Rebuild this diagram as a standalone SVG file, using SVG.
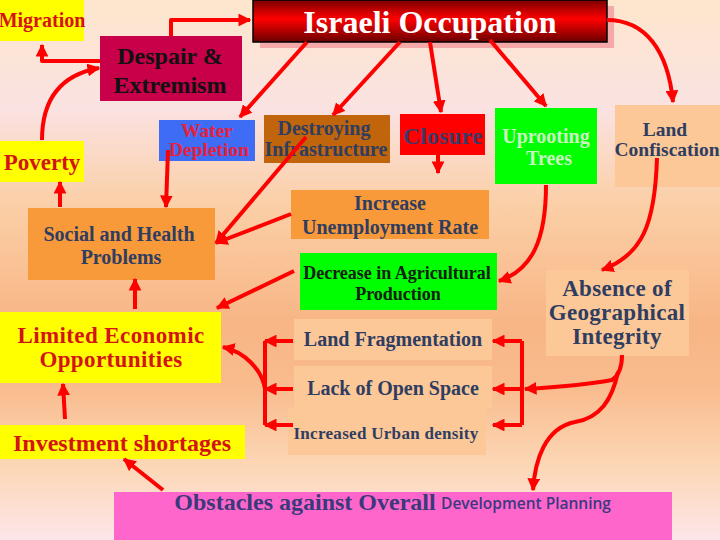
<svg xmlns="http://www.w3.org/2000/svg" width="720" height="540" viewBox="0 0 720 540">
<defs>
<linearGradient id="bg" x1="0" y1="0" x2="0" y2="1">
<stop offset="0" stop-color="#fde6cc"/>
<stop offset="0.2" stop-color="#fae2e2"/>
<stop offset="0.38" stop-color="#fbcfa6"/>
<stop offset="0.6" stop-color="#f8b585"/>
<stop offset="0.72" stop-color="#f9bc8e"/>
<stop offset="0.87" stop-color="#fcd8b8"/>
<stop offset="1" stop-color="#fde6ea"/>
</linearGradient>
<linearGradient id="occ" x1="0" y1="0" x2="0" y2="1">
<stop offset="0" stop-color="#7a0000"/>
<stop offset="0.45" stop-color="#ff0000"/>
<stop offset="1" stop-color="#6a0000"/>
</linearGradient>
<marker id="ah" viewBox="0 0 10 10" refX="9" refY="5" markerWidth="3.2" markerHeight="3.2" orient="auto" markerUnits="strokeWidth">
<path d="M0,0 L10,5 L0,10 z" fill="#ff0000"/>
</marker>
<style>
text{font-family:"Liberation Serif","Times New Roman",serif;font-weight:bold;text-anchor:middle}
.red{fill:#d41414}
.sl{fill:#2e3d60}
.cn path{fill:none;stroke:#ff0000;stroke-width:4;stroke-linejoin:round}
.ar{marker-end:url(#ah)}
</style>
</defs>
<rect width="720" height="540" fill="url(#bg)"/>

<g id="migration"><rect x="0" y="0" width="84" height="41" fill="#ffff00"/><text x="42" y="27" font-size="20" class="red">Migration</text></g>
<g id="occupation"><rect x="260" y="6" width="354" height="42" fill="#f5a9a9"/><rect x="253" y="0" width="354" height="42" fill="url(#occ)" stroke="#000" stroke-width="1.5"/><text x="430" y="33" font-size="32" fill="#ffffff">Israeli Occupation</text></g>
<g id="despair"><rect x="100" y="36" width="142" height="65" fill="#c8004a"/><text x="170" y="64" font-size="24" fill="#111">Despair &amp;</text><text x="170" y="93" font-size="24" fill="#111">Extremism</text></g>
<g id="poverty"><rect x="0" y="141" width="84" height="41" fill="#ffff00"/><text x="42" y="170" font-size="23" class="red">Poverty</text></g>
<g id="water"><rect x="159" y="120" width="96" height="41" fill="#3f6cf5"/><text x="207" y="137" font-size="19.5" fill="#e8203a">Water</text><text x="209" y="156" font-size="19.5" fill="#e8203a">Depletion</text></g>
<g id="destroying"><rect x="264" y="115" width="126" height="48" fill="#c0650c"/><text x="324" y="135" font-size="20" class="sl">Destroying</text><text x="326" y="156" font-size="20" class="sl">Infrastructure</text></g>
<g id="closure"><rect x="400" y="114" width="85" height="41" fill="#ff0000"/><text x="443" y="144" font-size="23" fill="#3a3a6a" letter-spacing="0.5">Closure</text></g>
<g id="uprooting"><rect x="495" y="108" width="102" height="76" fill="#00ff00"/><text x="546" y="143" font-size="20" fill="#c8f4c0">Uprooting</text><text x="549" y="165" font-size="20" fill="#c8f4c0">Trees</text></g>
<g id="confiscation"><rect x="615" y="105" width="105" height="82" fill="#fcc898"/><text x="665" y="136" font-size="19.5" class="sl">Land</text><text x="667" y="156" font-size="19.5" class="sl">Confiscation</text></g>
<g id="social"><rect x="28" y="208" width="187" height="72" fill="#f99a3a"/><text x="119" y="241" font-size="20" class="sl">Social and Health</text><text x="121" y="264" font-size="20" class="sl">Problems</text></g>
<g id="unemployment"><rect x="291" y="190" width="198" height="49" fill="#f99a3a"/><text x="390" y="210" font-size="20" class="sl">Increase</text><text x="390" y="234" font-size="20" class="sl">Unemployment Rate</text></g>
<g id="agri"><rect x="300" y="253" width="197" height="57" fill="#00ff00"/><text x="397" y="279" font-size="18" fill="#102010">Decrease in Agricultural</text><text x="398" y="300" font-size="18" fill="#102010">Production</text></g>
<g id="fragmentation"><rect x="294" y="319" width="198" height="41" fill="#fcc898"/><text x="393" y="346" font-size="20" class="sl">Land Fragmentation</text></g>
<g id="openspace"><rect x="294" y="366" width="198" height="42" fill="#fcc898"/><text x="393" y="395" font-size="20" class="sl">Lack of Open Space</text></g>
<g id="urban"><rect x="288" y="408" width="198" height="47" fill="#fcc898"/><text x="386" y="439" font-size="17" class="sl" letter-spacing="0.3">Increased Urban density</text></g>
<g id="absence"><rect x="546" y="270" width="143" height="86" fill="#fcc898"/><text x="617" y="296" font-size="23" class="sl" letter-spacing="0.3">Absence of</text><text x="617" y="320" font-size="23" class="sl" letter-spacing="0.3">Geographical</text><text x="617" y="344" font-size="23" class="sl" letter-spacing="0.3">Integrity</text></g>
<g id="limited"><rect x="0" y="312" width="221" height="71" fill="#ffff00"/><text x="111" y="343" font-size="23" class="red" letter-spacing="0.4">Limited Economic</text><text x="111" y="367" font-size="23" class="red" letter-spacing="0.4">Opportunities</text></g>
<g id="investment"><rect x="0" y="425" width="245" height="34" fill="#ffff00"/><text x="122" y="451" font-size="24" class="red">Investment shortages</text></g>
<g id="obstacles"><rect x="114" y="492" width="558" height="48" fill="#ff66cc"/><text x="305" y="510" font-size="24" fill="#3a3a7a">Obstacles against Overall</text><text x="526" y="509" font-size="15.5" fill="#3a3a80" style="font-family:'Open Sans','Noto Sans',sans-serif;font-weight:600">Development Planning</text></g>

<g id="connectors" class="cn">
<path class="ar" d="M171,36 V20 H250"/>
<path class="ar" d="M100,61 H42 V45"/>
<path class="ar" d="M42,140 C42,100 60,75 99,68"/>
<path class="ar" d="M307,42 L240,117"/>
<path class="ar" d="M400,42 L333,115"/>
<path class="ar" d="M430,42 L441,112"/>
<path class="ar" d="M490,40 L546,106"/>
<path class="ar" d="M607,20 C645,20 668,50 673,102"/>
<path class="ar" d="M168,150 L166,207"/>
<path class="ar" d="M60,207 V182"/>
<path class="ar" d="M306,137 L216,243"/>
<path class="ar" d="M438,155 V173"/>
<path class="ar" d="M291,214 L216,243"/>
<path class="ar" d="M294,271 L217,308"/>
<path class="ar" d="M546,185 C546,240 532,270 499,281"/>
<path class="ar" d="M657,158 C655,225 642,255 602,270"/>
<path class="ar" d="M135,309 V279"/>
<path class="ar" d="M65,419 L63,384"/>
<path class="ar" d="M163,490 L124,459"/>
<path d="M265,341 V425"/>
<path class="ar" d="M293,341 H265"/>
<path class="ar" d="M293,389 H265"/>
<path class="ar" d="M293,425 H265"/>
<path class="ar" d="M265,389 C262,370 245,352 223,347"/>
<path d="M522,341 V425"/>
<path class="ar" d="M522,341 H493"/>
<path class="ar" d="M522,389 H493"/>
<path class="ar" d="M522,425 H493"/>
<path class="ar" d="M622,355 C622,368 618,376 612,380 C590,384 560,387 525,389"/>
<path class="ar" d="M618,372 C612,400 600,418 575,422 C545,428 535,460 533,490"/>
</g>
</svg>
